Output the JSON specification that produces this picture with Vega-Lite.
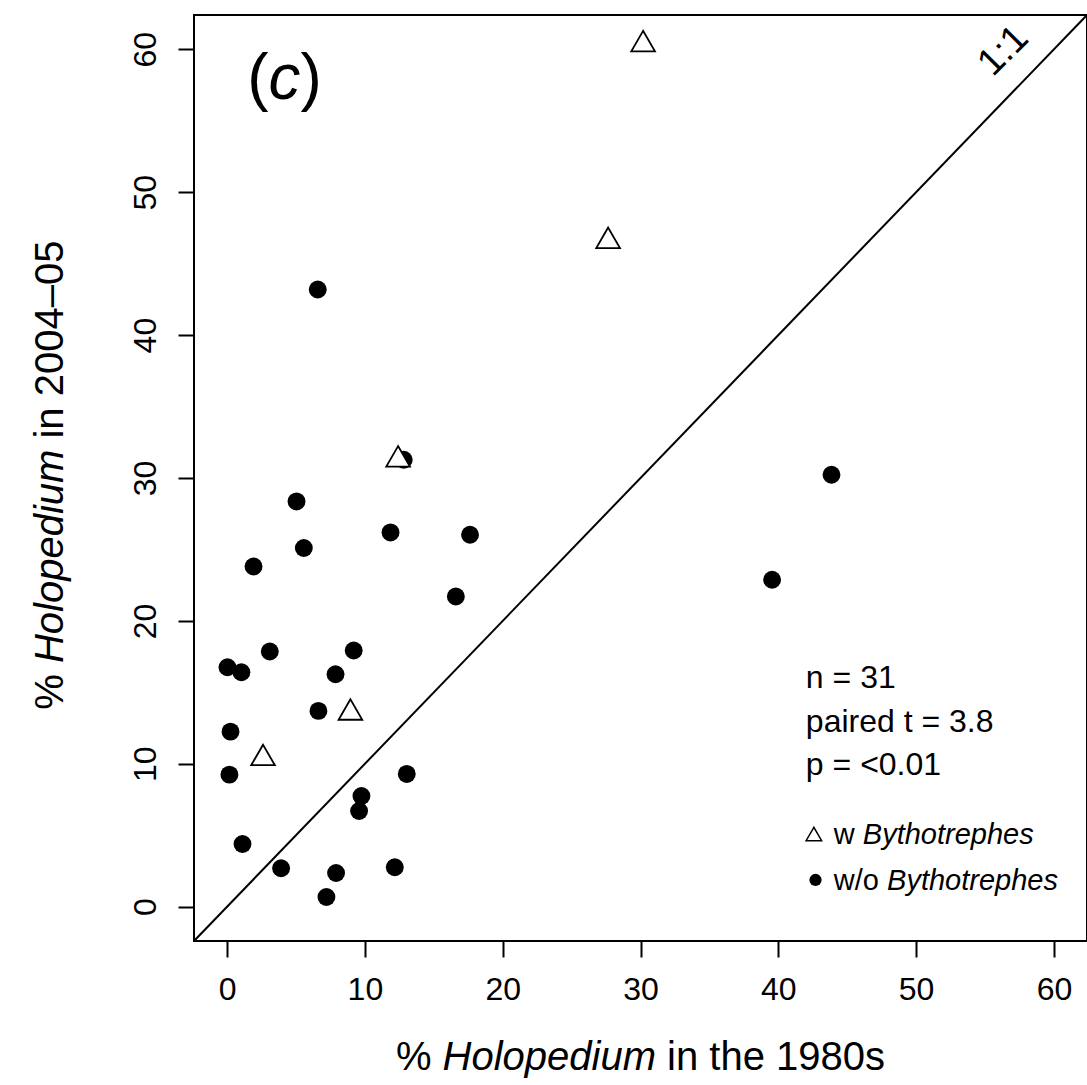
{
  "$schema": "https://vega.github.io/schema/vega-lite/v6.json",
  "width": 893,
  "height": 926,
  "autosize": {"type": "none"},
  "padding": {"left": 194, "top": 15, "right": 0, "bottom": 144},
  "background": "white",
  "config": {
    "view": {"stroke": "black", "strokeWidth": 2},
    "font": "Liberation Sans",
    "axis": {
      "domain": false,
      "grid": false,
      "ticks": true,
      "tickColor": "black",
      "tickWidth": 2,
      "tickSize": 16,
      "labelFont": "Liberation Sans",
      "labelFontSize": 32,
      "labelColor": "black",
      "labelFlush": false,
      "labelOverlap": false
    },
    "axisX": {"labelPadding": 17},
    "axisY": {"labelAngle": 270, "labelAlign": "center", "labelBaseline": "alphabetic", "labelPadding": 23}
  },
  "datasets": {
    "lakes": [
      {"pct_1980s": 6.63, "pct_2004_05": 13.70, "group": "w/o Bythotrephes"},
      {"pct_1980s": 12.82, "pct_2004_05": 31.28, "group": "w/o Bythotrephes"},
      {"pct_1980s": 5.04, "pct_2004_05": 28.36, "group": "w/o Bythotrephes"},
      {"pct_1980s": 5.57, "pct_2004_05": 25.10, "group": "w/o Bythotrephes"},
      {"pct_1980s": 11.86, "pct_2004_05": 26.19, "group": "w/o Bythotrephes"},
      {"pct_1980s": 17.63, "pct_2004_05": 26.03, "group": "w/o Bythotrephes"},
      {"pct_1980s": 1.92, "pct_2004_05": 23.81, "group": "w/o Bythotrephes"},
      {"pct_1980s": 16.60, "pct_2004_05": 21.71, "group": "w/o Bythotrephes"},
      {"pct_1980s": 3.10, "pct_2004_05": 17.86, "group": "w/o Bythotrephes"},
      {"pct_1980s": 9.19, "pct_2004_05": 17.93, "group": "w/o Bythotrephes"},
      {"pct_1980s": 0.03, "pct_2004_05": 16.76, "group": "w/o Bythotrephes"},
      {"pct_1980s": 1.04, "pct_2004_05": 16.41, "group": "w/o Bythotrephes"},
      {"pct_1980s": 7.87, "pct_2004_05": 16.27, "group": "w/o Bythotrephes"},
      {"pct_1980s": 0.25, "pct_2004_05": 12.25, "group": "w/o Bythotrephes"},
      {"pct_1980s": 0.17, "pct_2004_05": 9.24, "group": "w/o Bythotrephes"},
      {"pct_1980s": 13.04, "pct_2004_05": 9.29, "group": "w/o Bythotrephes"},
      {"pct_1980s": 9.75, "pct_2004_05": 7.75, "group": "w/o Bythotrephes"},
      {"pct_1980s": 9.58, "pct_2004_05": 6.70, "group": "w/o Bythotrephes"},
      {"pct_1980s": 1.12, "pct_2004_05": 4.39, "group": "w/o Bythotrephes"},
      {"pct_1980s": 3.92, "pct_2004_05": 2.69, "group": "w/o Bythotrephes"},
      {"pct_1980s": 7.91, "pct_2004_05": 2.36, "group": "w/o Bythotrephes"},
      {"pct_1980s": 12.17, "pct_2004_05": 2.76, "group": "w/o Bythotrephes"},
      {"pct_1980s": 7.21, "pct_2004_05": 0.68, "group": "w/o Bythotrephes"},
      {"pct_1980s": 6.58, "pct_2004_05": 43.19, "group": "w/o Bythotrephes"},
      {"pct_1980s": 43.86, "pct_2004_05": 30.23, "group": "w/o Bythotrephes"},
      {"pct_1980s": 39.55, "pct_2004_05": 22.88, "group": "w/o Bythotrephes"},
      {"pct_1980s": 30.19, "pct_2004_05": 60.57, "group": "w Bythotrephes"},
      {"pct_1980s": 27.65, "pct_2004_05": 46.81, "group": "w Bythotrephes"},
      {"pct_1980s": 12.41, "pct_2004_05": 31.51, "group": "w Bythotrephes"},
      {"pct_1980s": 8.95, "pct_2004_05": 13.80, "group": "w Bythotrephes"},
      {"pct_1980s": 2.61, "pct_2004_05": 10.62, "group": "w Bythotrephes"}
    ]
  },
  "data": {"name": "lakes"},
  "layer": [
    {
      "transform": [{"filter": "datum.group === 'w/o Bythotrephes'"}],
      "mark": {"type": "point", "shape": "circle", "filled": true, "color": "black", "opacity": 1, "size": 320},
      "encoding": {
        "x": {"field": "pct_1980s", "type": "quantitative", "title": null,
              "scale": {"domain": [-2.4, 62.4], "nice": false, "zero": false},
              "axis": {"values": [0, 10, 20, 30, 40, 50, 60], "title": null}},
        "y": {"field": "pct_2004_05", "type": "quantitative", "title": null,
              "scale": {"domain": [-2.4, 62.4], "nice": false, "zero": false},
              "axis": {"values": [0, 10, 20, 30, 40, 50, 60], "title": null}}
      }
    },
    {
      "transform": [{"filter": "datum.group === 'w Bythotrephes'"}],
      "mark": {"type": "point", "shape": "triangle-up", "filled": true, "fill": "white", "stroke": "black", "strokeWidth": 1.8, "opacity": 1, "fillOpacity": 1, "size": 560},
      "encoding": {
        "x": {"field": "pct_1980s", "type": "quantitative", "title": null,
              "scale": {"domain": [-2.4, 62.4], "nice": false, "zero": false},
              "axis": {"values": [0, 10, 20, 30, 40, 50, 60], "title": null}},
        "y": {"field": "pct_2004_05", "type": "quantitative", "title": null,
              "scale": {"domain": [-2.4, 62.4], "nice": false, "zero": false},
              "axis": {"values": [0, 10, 20, 30, 40, 50, 60], "title": null}}
      }
    },
    {
      "mark": {"type": "rule", "color": "black", "strokeWidth": 2},
      "data": {"values": [{}]},
      "encoding": {
        "x": {"datum": -2.4, "type": "quantitative", "title": null, "scale": {"domain": [-2.4, 62.4], "nice": false, "zero": false}, "axis": {"values": [0, 10, 20, 30, 40, 50, 60], "title": null}},
        "y": {"datum": -2.4, "type": "quantitative", "title": null, "scale": {"domain": [-2.4, 62.4], "nice": false, "zero": false}, "axis": {"values": [0, 10, 20, 30, 40, 50, 60], "title": null}},
        "x2": {"datum": 62.4},
        "y2": {"datum": 62.4}
      }
    },
    {
      "data": {"values": [{}]},
      "mark": {"type": "text", "text": ["n = 31", "paired t = 3.8", "p = <0.01"], "font": "Liberation Sans", "fontSize": 32, "lineHeight": 43.5, "align": "left", "baseline": "alphabetic", "color": "black"},
      "encoding": {
        "x": {"datum": 42.0, "type": "quantitative", "title": null, "axis": {"values": [0, 10, 20, 30, 40, 50, 60], "title": null}},
        "y": {"datum": 15.28, "type": "quantitative", "title": null, "axis": {"values": [0, 10, 20, 30, 40, 50, 60], "title": null}}
      }
    },
    {
      "data": {"values": [{}]},
      "mark": {"type": "point", "shape": "triangle-up", "filled": true, "fill": "white", "stroke": "black", "strokeWidth": 1.5, "opacity": 1, "size": 240},
      "encoding": {
        "x": {"datum": 42.58, "type": "quantitative", "title": null, "axis": {"values": [0, 10, 20, 30, 40, 50, 60], "title": null}},
        "y": {"datum": 5.09, "type": "quantitative", "title": null, "axis": {"values": [0, 10, 20, 30, 40, 50, 60], "title": null}}
      }
    },
    {
      "data": {"values": [{}]},
      "mark": {"type": "point", "shape": "circle", "filled": true, "color": "black", "opacity": 1, "size": 150},
      "encoding": {
        "x": {"datum": 42.7, "type": "quantitative", "title": null, "axis": {"values": [0, 10, 20, 30, 40, 50, 60], "title": null}},
        "y": {"datum": 1.87, "type": "quantitative", "title": null, "axis": {"values": [0, 10, 20, 30, 40, 50, 60], "title": null}}
      }
    },
    {
      "data": {"values": [{}]},
      "mark": {"type": "text", "text": "w", "font": "Liberation Sans", "fontSize": 29, "align": "left", "baseline": "middle", "color": "black"},
      "encoding": {
        "x": {"datum": 44.03, "type": "quantitative", "title": null, "axis": {"values": [0, 10, 20, 30, 40, 50, 60], "title": null}},
        "y": {"datum": 5.0, "type": "quantitative", "title": null, "axis": {"values": [0, 10, 20, 30, 40, 50, 60], "title": null}}
      }
    },
    {
      "data": {"values": [{}]},
      "mark": {"type": "text", "text": "Bythotrephes", "font": "Liberation Sans", "fontStyle": "italic", "fontSize": 29, "align": "left", "baseline": "middle", "color": "black", "dx": 29},
      "encoding": {
        "x": {"datum": 44.03, "type": "quantitative", "title": null, "axis": {"values": [0, 10, 20, 30, 40, 50, 60], "title": null}},
        "y": {"datum": 5.0, "type": "quantitative", "title": null, "axis": {"values": [0, 10, 20, 30, 40, 50, 60], "title": null}}
      }
    },
    {
      "data": {"values": [{}]},
      "mark": {"type": "text", "text": "w/o", "font": "Liberation Sans", "fontSize": 29, "align": "left", "baseline": "middle", "color": "black"},
      "encoding": {
        "x": {"datum": 44.03, "type": "quantitative", "title": null, "axis": {"values": [0, 10, 20, 30, 40, 50, 60], "title": null}},
        "y": {"datum": 1.8, "type": "quantitative", "title": null, "axis": {"values": [0, 10, 20, 30, 40, 50, 60], "title": null}}
      }
    },
    {
      "data": {"values": [{}]},
      "mark": {"type": "text", "text": "Bythotrephes", "font": "Liberation Sans", "fontStyle": "italic", "fontSize": 29, "align": "left", "baseline": "middle", "color": "black", "dx": 53.2},
      "encoding": {
        "x": {"datum": 44.03, "type": "quantitative", "title": null, "axis": {"values": [0, 10, 20, 30, 40, 50, 60], "title": null}},
        "y": {"datum": 1.8, "type": "quantitative", "title": null, "axis": {"values": [0, 10, 20, 30, 40, 50, 60], "title": null}}
      }
    },
    {
      "data": {"values": [{}]},
      "mark": {"type": "text", "text": "(", "font": "Liberation Sans", "fontSize": 64, "align": "left", "baseline": "alphabetic", "color": "black", "dx": -37.3},
      "encoding": {
        "x": {"datum": 4.17, "type": "quantitative", "title": null, "axis": {"values": [0, 10, 20, 30, 40, 50, 60], "title": null}},
        "y": {"datum": 56.5, "type": "quantitative", "title": null, "axis": {"values": [0, 10, 20, 30, 40, 50, 60], "title": null}}
      }
    },
    {
      "data": {"values": [{}]},
      "mark": {"type": "text", "text": "c", "font": "Liberation Sans", "fontStyle": "italic", "fontSize": 64, "align": "left", "baseline": "alphabetic", "color": "black", "dx": -16},
      "encoding": {
        "x": {"datum": 4.17, "type": "quantitative", "title": null, "axis": {"values": [0, 10, 20, 30, 40, 50, 60], "title": null}},
        "y": {"datum": 56.5, "type": "quantitative", "title": null, "axis": {"values": [0, 10, 20, 30, 40, 50, 60], "title": null}}
      }
    },
    {
      "data": {"values": [{}]},
      "mark": {"type": "text", "text": ")", "font": "Liberation Sans", "fontSize": 64, "align": "left", "baseline": "alphabetic", "color": "black", "dx": 16},
      "encoding": {
        "x": {"datum": 4.17, "type": "quantitative", "title": null, "axis": {"values": [0, 10, 20, 30, 40, 50, 60], "title": null}},
        "y": {"datum": 56.5, "type": "quantitative", "title": null, "axis": {"values": [0, 10, 20, 30, 40, 50, 60], "title": null}}
      }
    },
    {
      "data": {"values": [{}]},
      "mark": {"type": "text", "text": "1:1", "font": "Liberation Sans", "fontSize": 38, "align": "center", "baseline": "middle", "angle": 315, "color": "black"},
      "encoding": {
        "x": {"datum": 56.36, "type": "quantitative", "title": null, "axis": {"values": [0, 10, 20, 30, 40, 50, 60], "title": null}},
        "y": {"datum": 59.87, "type": "quantitative", "title": null, "axis": {"values": [0, 10, 20, 30, 40, 50, 60], "title": null}}
      }
    },
    {
      "data": {"values": [{}]},
      "mark": {"type": "text", "text": "%", "font": "Liberation Sans", "fontSize": 40, "align": "left", "baseline": "alphabetic", "color": "black", "dx": -244.6},
      "encoding": {
        "x": {"datum": 30, "type": "quantitative", "title": null, "axis": {"values": [0, 10, 20, 30, 40, 50, 60], "title": null}},
        "y": {"datum": -11.45, "type": "quantitative", "title": null, "axis": {"values": [0, 10, 20, 30, 40, 50, 60], "title": null}}
      }
    },
    {
      "data": {"values": [{}]},
      "mark": {"type": "text", "text": "Holopedium", "font": "Liberation Sans", "fontStyle": "italic", "fontSize": 40, "align": "left", "baseline": "alphabetic", "color": "black", "dx": -197.9},
      "encoding": {
        "x": {"datum": 30, "type": "quantitative", "title": null, "axis": {"values": [0, 10, 20, 30, 40, 50, 60], "title": null}},
        "y": {"datum": -11.45, "type": "quantitative", "title": null, "axis": {"values": [0, 10, 20, 30, 40, 50, 60], "title": null}}
      }
    },
    {
      "data": {"values": [{}]},
      "mark": {"type": "text", "text": "in the 1980s", "font": "Liberation Sans", "fontSize": 40, "align": "left", "baseline": "alphabetic", "color": "black", "dx": 26.6},
      "encoding": {
        "x": {"datum": 30, "type": "quantitative", "title": null, "axis": {"values": [0, 10, 20, 30, 40, 50, 60], "title": null}},
        "y": {"datum": -11.45, "type": "quantitative", "title": null, "axis": {"values": [0, 10, 20, 30, 40, 50, 60], "title": null}}
      }
    },
    {
      "data": {"values": [{}]},
      "mark": {"type": "text", "text": "%", "font": "Liberation Sans", "fontSize": 40, "align": "left", "baseline": "alphabetic", "angle": 270, "color": "black", "dx": -234.6},
      "encoding": {
        "x": {"datum": -11.9, "type": "quantitative", "title": null, "axis": {"values": [0, 10, 20, 30, 40, 50, 60], "title": null}},
        "y": {"datum": 30.2, "type": "quantitative", "title": null, "axis": {"values": [0, 10, 20, 30, 40, 50, 60], "title": null}}
      }
    },
    {
      "data": {"values": [{}]},
      "mark": {"type": "text", "text": "Holopedium", "font": "Liberation Sans", "fontStyle": "italic", "fontSize": 40, "align": "left", "baseline": "alphabetic", "angle": 270, "color": "black", "dx": -187.9},
      "encoding": {
        "x": {"datum": -11.9, "type": "quantitative", "title": null, "axis": {"values": [0, 10, 20, 30, 40, 50, 60], "title": null}},
        "y": {"datum": 30.2, "type": "quantitative", "title": null, "axis": {"values": [0, 10, 20, 30, 40, 50, 60], "title": null}}
      }
    },
    {
      "data": {"values": [{}]},
      "mark": {"type": "text", "text": "in 2004–05", "font": "Liberation Sans", "fontSize": 40, "align": "left", "baseline": "alphabetic", "angle": 270, "color": "black", "dx": 36.6},
      "encoding": {
        "x": {"datum": -11.9, "type": "quantitative", "title": null, "axis": {"values": [0, 10, 20, 30, 40, 50, 60], "title": null}},
        "y": {"datum": 30.2, "type": "quantitative", "title": null, "axis": {"values": [0, 10, 20, 30, 40, 50, 60], "title": null}}
      }
    }
  ]
}
